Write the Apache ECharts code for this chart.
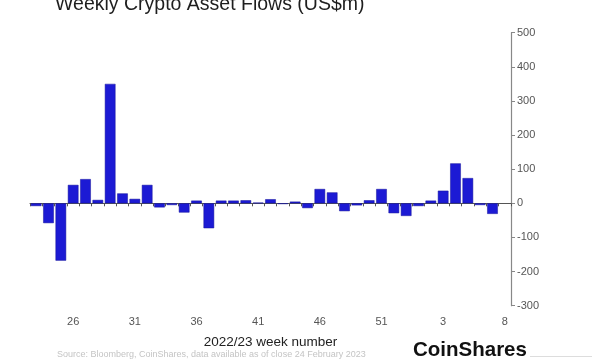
<!DOCTYPE html>
<html>
<head>
<meta charset="utf-8">
<script src="https://cdn.jsdelivr.net/npm/echarts@6/dist/echarts.min.js"></script>
<style>html,body{margin:0;padding:0;background:#fff;}#c{width:603px;height:360px;}</style>
</head>
<body>
<div id="c"></div>
<script>
// Week numbers (2022 weeks 23..53, then 2023 weeks 1..8)
const weeks = ['23','24','25','26','27','28','29','30','31','32','33','34','35','36','37','38','39','40','41','42','43','44','45','46','47','48','49','50','51','52','53','1','2','3','4','5','6','7','8'];
// Weekly flows, US$m
const flows = [-8,-58,-168,54,71,10,350,29,13,54,-12,-5,-27,8,-73,8,8,9,2,12,-2,5,-14,42,32,-23,-6,9,42,-29,-37,-8,8,37,117,74,-5,-31,null];
const yTicks = {min:-300, max:500, step:100};
const titleText = 'Weekly Crypto Asset Flows (US$m)';
const xName = '2022/23 week number';
const sourceText = 'Source: Bloomberg, CoinShares, data available as of close 24 February 2023';
const brand = 'CoinShares';

const chart = echarts.init(document.getElementById('c'), null, {renderer:'canvas'});
const FONT = '"Liberation Sans", Arial, sans-serif';
chart.setOption({
  backgroundColor:'#ffffff',
  animation:false,
  grid:{left:30, right:92, top:32.7, bottom:54.3, containLabel:false},
  xAxis:[{
    type:'category', data:weeks, gridIndex:0,
    axisLine:{show:true, onZero:true, lineStyle:{color:'#555', width:1}},
    axisTick:{show:true, interval:0, length:3, lineStyle:{color:'#555'}},
    axisLabel:{show:false},
    splitLine:{show:false}
  },{
    type:'category', data:weeks, gridIndex:0, position:'bottom',
    axisLine:{show:false}, axisTick:{show:false}, splitLine:{show:false},
    axisLabel:{show:true, interval:function(i){return (i-3)%5===0;}, margin:11, color:'#555', fontSize:11, fontFamily:FONT},
    name:xName, nameLocation:'middle', nameGap:30,
    nameTextStyle:{color:'#222', fontSize:13.5, fontFamily:FONT}
  }],
  yAxis:{
    type:'value', position:'right', min:yTicks.min, max:yTicks.max, interval:yTicks.step,
    splitLine:{show:false},
    axisLine:{show:true, lineStyle:{color:'#888', width:1.2}},
    axisTick:{show:true, length:4, lineStyle:{color:'#888'}},
    axisLabel:{color:'#555', fontSize:11, margin:6, fontFamily:FONT}
  },
  series:[{
    type:'bar', data:flows, xAxisIndex:0, yAxisIndex:0,
    barWidth:'86%',
    itemStyle:{color:'#1c1ad4', borderColor:'#15139a', borderWidth:0.5}
  }],
  graphic:[
    {type:'text', left:55, top:-5, style:{text:titleText, fill:'#1e1e1e', font:'19.5px '+FONT}},
    {type:'text', left:57, top:350, style:{text:sourceText, fill:'#c4c4c4', font:'9px '+FONT}},
    {type:'text', left:413, top:340, style:{text:brand, fill:'#111', font:'bold 20.5px '+FONT}},
    {type:'rect', shape:{x:530, y:356, width:62, height:1}, style:{fill:'#ddd'}}
  ]
});
</script>
</body>
</html>
